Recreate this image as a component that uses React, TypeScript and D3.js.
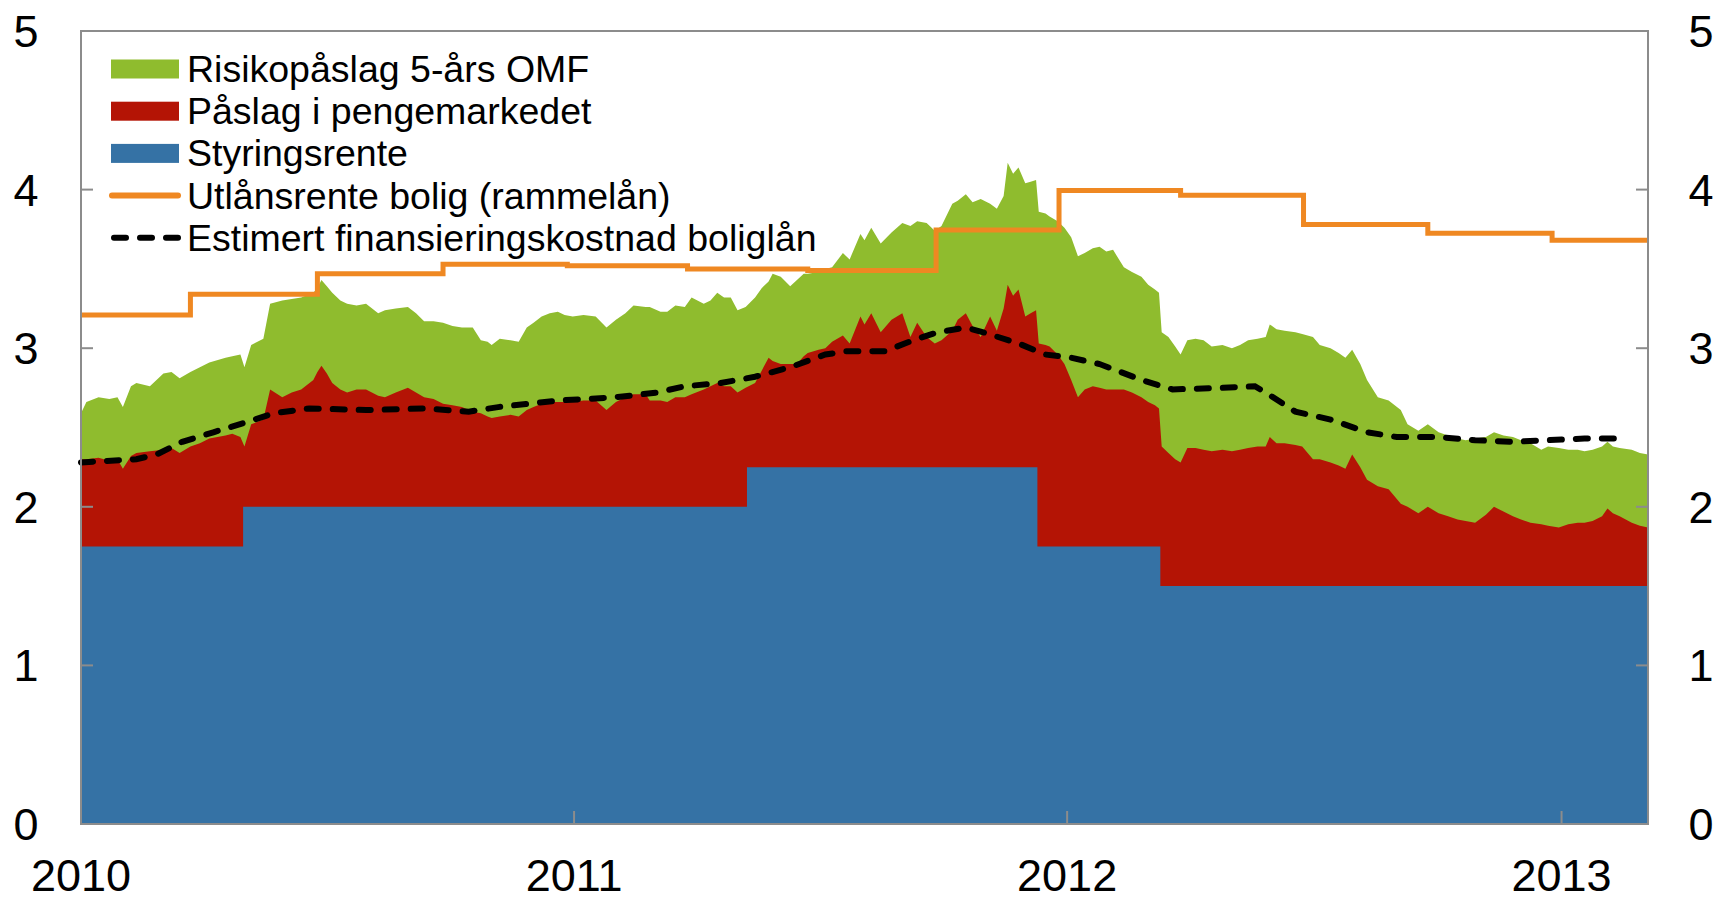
import React, { useRef, useEffect } from 'react';
import * as d3 from 'd3';

// days after 1 Jan 2010 for the daily spread samples
const sampleDays = [
  0, 4, 13, 21, 27, 31, 37, 41, 51, 61,
  67, 73, 81, 88, 95, 107, 112, 118, 121, 126,
  135, 140, 149, 156, 163, 172, 175, 178, 182, 186,
  192, 197, 204, 211, 220, 225, 233, 242, 248, 254,
  261, 268, 275, 282, 290, 296, 301, 304, 310, 318,
  324, 330, 335, 341, 347, 353, 358, 364, 372, 381,
  389, 396, 403, 409, 418, 421, 429, 434, 440, 447,
  452, 461, 466, 471, 476, 481, 486, 492, 499, 504,
  509, 512, 518, 525, 530, 535, 538, 546, 551, 556,
  564, 569, 577, 580, 585, 592, 600, 608, 614, 619,
  626, 632, 637, 645, 649, 655, 660, 666, 673, 678,
  683, 686, 690, 694, 699, 703, 707, 709, 714, 717,
  723, 728, 733, 738, 743, 749, 754, 759, 764, 772,
  778, 785, 790, 795, 798, 800, 805, 810, 814, 819,
  825, 831, 837, 845, 852, 858, 864, 871, 877, 880,
  885, 891, 899, 904, 912, 917, 925, 931, 936, 941,
  947, 952, 960, 968, 977, 982, 990, 997, 1005, 1012,
  1019, 1025, 1032, 1040, 1046, 1053, 1060, 1066, 1073, 1081,
  1086, 1094, 1101, 1108, 1113, 1119, 1126, 1130, 1134, 1139,
  1148, 1154, 1160,
];

// styringsrente + pengemarkedspåslag + OMF-påslag (top of green)
const omfLevel = [
  2.59, 2.66, 2.69, 2.68, 2.69, 2.63, 2.76, 2.78, 2.76, 2.84,
  2.85, 2.81, 2.85, 2.88, 2.91, 2.94, 2.95, 2.96, 2.88, 3.02,
  3.06, 3.28, 3.30, 3.31, 3.32, 3.35, 3.38, 3.43, 3.39, 3.35,
  3.30, 3.28, 3.27, 3.28, 3.22, 3.24, 3.25, 3.26, 3.22, 3.17,
  3.17, 3.16, 3.14, 3.13, 3.13, 3.05, 3.04, 3.02, 3.06, 3.05,
  3.04, 3.13, 3.16, 3.20, 3.22, 3.23, 3.21, 3.20, 3.21, 3.20,
  3.13, 3.18, 3.22, 3.27, 3.26, 3.26, 3.23, 3.23, 3.27, 3.26,
  3.32, 3.28, 3.30, 3.35, 3.32, 3.32, 3.24, 3.26, 3.32, 3.38,
  3.42, 3.47, 3.45, 3.39, 3.43, 3.47, 3.47, 3.48, 3.50, 3.51,
  3.60, 3.56, 3.72, 3.68, 3.76, 3.66, 3.73, 3.79, 3.77, 3.80,
  3.79, 3.74, 3.77, 3.91, 3.93, 3.97, 3.92, 3.94, 3.91, 3.88,
  3.96, 4.17, 4.10, 4.14, 4.04, 4.05, 4.06, 3.86, 3.85, 3.83,
  3.80, 3.76, 3.70, 3.58, 3.60, 3.63, 3.64, 3.61, 3.62, 3.51,
  3.48, 3.45, 3.40, 3.37, 3.35, 3.10, 3.07, 3.01, 2.96, 3.05,
  3.06, 3.05, 3.01, 3.02, 3.00, 3.02, 3.05, 3.06, 3.07, 3.15,
  3.12, 3.11, 3.10, 3.09, 3.07, 3.02, 3.00, 2.97, 2.94, 2.99,
  2.90, 2.80, 2.69, 2.67, 2.61, 2.52, 2.48, 2.52, 2.47, 2.45,
  2.43, 2.42, 2.43, 2.44, 2.47, 2.45, 2.44, 2.42, 2.40, 2.36,
  2.38, 2.37, 2.36, 2.36, 2.35, 2.36, 2.38, 2.41, 2.38, 2.37,
  2.36, 2.34, 2.33,
];

// styringsrente + pengemarkedspåslag (top of red)
const moneyMarketLevel = [
  2.30, 2.30, 2.31, 2.29, 2.30, 2.24, 2.32, 2.34, 2.35, 2.36,
  2.37, 2.34, 2.38, 2.40, 2.43, 2.45, 2.46, 2.44, 2.38, 2.52,
  2.55, 2.74, 2.69, 2.72, 2.74, 2.80, 2.85, 2.89, 2.84, 2.78,
  2.74, 2.72, 2.74, 2.74, 2.70, 2.69, 2.72, 2.75, 2.72, 2.69,
  2.68, 2.65, 2.64, 2.63, 2.60, 2.59, 2.57, 2.56, 2.57, 2.58,
  2.57, 2.61, 2.63, 2.65, 2.66, 2.66, 2.66, 2.66, 2.67, 2.67,
  2.61, 2.66, 2.69, 2.71, 2.71, 2.67, 2.67, 2.66, 2.69, 2.69,
  2.71, 2.74, 2.76, 2.78, 2.76, 2.76, 2.72, 2.75, 2.78, 2.86,
  2.94, 2.92, 2.90, 2.90, 2.90, 2.95, 2.97, 2.99, 3.00, 3.04,
  3.08, 3.03, 3.20, 3.15, 3.22, 3.10, 3.18, 3.22, 3.07, 3.16,
  3.07, 3.03, 3.05, 3.11, 3.18, 3.22, 3.14, 3.07, 3.20, 3.11,
  3.25, 3.40, 3.33, 3.37, 3.20, 3.22, 3.24, 3.03, 3.02, 3.01,
  2.96, 2.90, 2.80, 2.69, 2.74, 2.76, 2.75, 2.74, 2.74, 2.74,
  2.72, 2.69, 2.66, 2.64, 2.62, 2.38, 2.34, 2.30, 2.28, 2.37,
  2.37, 2.36, 2.35, 2.36, 2.35, 2.36, 2.37, 2.38, 2.38, 2.44,
  2.40, 2.40, 2.39, 2.38, 2.30, 2.30, 2.28, 2.26, 2.24, 2.33,
  2.25, 2.17, 2.13, 2.11, 2.02, 2.00, 1.96, 2.00, 1.96, 1.94,
  1.92, 1.91, 1.90, 1.95, 2.00, 1.97, 1.94, 1.92, 1.90, 1.89,
  1.88, 1.87, 1.89, 1.90, 1.90, 1.91, 1.94, 1.99, 1.96, 1.94,
  1.90, 1.88, 1.87,
];

const policyDays = [0, 120, 493, 708, 799, 1160];
const policyRate = [1.75, 2.0, 2.25, 1.75, 1.5, 1.5];

const lendingDays = [0, 81, 175, 268, 360, 449, 538, 633, 724, 814, 905, 997, 1089, 1160];
const lendingRate = [3.21, 3.34, 3.47, 3.53, 3.52, 3.5, 3.49, 3.745, 3.995, 3.965, 3.78, 3.725, 3.68, 3.68];

const fundingDays = [
  0, 41, 56, 75, 98, 121, 143, 169, 211, 254,
  287, 310, 353, 395, 426, 447, 473, 499, 525, 551,
  566, 595, 616, 634, 655, 668, 694, 714, 733, 754,
  785, 808, 845, 869, 877, 899, 925, 952, 974, 1005,
  1032, 1060, 1086, 1113, 1139,
];
const fundingCost = [
  2.28, 2.30, 2.33, 2.41, 2.47, 2.53, 2.59, 2.62, 2.61, 2.62,
  2.60, 2.63, 2.67, 2.69, 2.72, 2.76, 2.78, 2.82, 2.88, 2.96,
  2.98, 2.98, 3.05, 3.10, 3.13, 3.10, 3.03, 2.96, 2.94, 2.90,
  2.80, 2.74, 2.75, 2.76, 2.72, 2.60, 2.55, 2.47, 2.44, 2.44,
  2.42, 2.41, 2.42, 2.43, 2.43,
];

const yTicks = [0, 1, 2, 3, 4, 5];
const yearTicks = [2010, 2011, 2012, 2013];

const legendItems = [
  { label: 'Risikopåslag 5-års OMF', kind: 'rect', color: '#8fbc2e' },
  { label: 'Påslag i pengemarkedet', kind: 'rect', color: '#b41405' },
  { label: 'Styringsrente', kind: 'rect', color: '#3572a5' },
  { label: 'Utlånsrente bolig (rammelån)', kind: 'line', color: '#ef8822' },
  { label: 'Estimert finansieringskostnad boliglån', kind: 'dash', color: '#000000' },
];

const App = () => {
  const svgRef = useRef(null);

  useEffect(() => {
    const svg = d3.select(svgRef.current);
    svg.selectAll('*').remove();

    const left = 81, right = 1648, top = 31, bottom = 824;
    const font = '"Liberation Sans", Arial, sans-serif';
    const axisColor = '#8c8c8c';

    const start = new Date(2010, 0, 1);
    const day = (d: number) => d3.timeDay.offset(start, d);

    const x = d3.scaleTime().domain([start, day(1160)]).range([left, right]);
    const y = d3.scaleLinear().domain([0, 5]).range([bottom, top]);

    const g = svg.append('g');

    const levelArea = (values: number[]) =>
      d3.area<number>()
        .x(d => x(day(d)))
        .y0(y(0))
        .y1((_, i) => y(values[i]));

    g.append('path').datum(sampleDays).attr('d', levelArea(omfLevel)).attr('fill', '#8fbc2e');
    g.append('path').datum(sampleDays).attr('d', levelArea(moneyMarketLevel)).attr('fill', '#b41405');
    g.append('path').datum(policyDays)
      .attr('d', levelArea(policyRate).curve(d3.curveStepAfter))
      .attr('fill', '#3572a5');

    const lending = d3.line<number>()
      .x(d => x(day(d)))
      .y((_, i) => y(lendingRate[i]))
      .curve(d3.curveStepAfter);
    g.append('path').datum(lendingDays).attr('d', lending)
      .attr('fill', 'none').attr('stroke', '#ef8822').attr('stroke-width', 5);

    const funding = d3.line<number>()
      .x(d => x(day(d)))
      .y((_, i) => y(fundingCost[i]));
    g.append('path').datum(fundingDays).attr('d', funding)
      .attr('fill', 'none').attr('stroke', '#000').attr('stroke-width', 6)
      .attr('stroke-dasharray', '12 14').attr('stroke-linecap', 'round');

    // frame and inward ticks
    g.append('rect')
      .attr('x', left).attr('y', top)
      .attr('width', right - left).attr('height', bottom - top)
      .attr('fill', 'none').attr('stroke', axisColor).attr('stroke-width', 2);

    yTicks.forEach(t => {
      g.append('line').attr('x1', left).attr('x2', left + 12).attr('y1', y(t)).attr('y2', y(t))
        .attr('stroke', axisColor).attr('stroke-width', 2);
      g.append('line').attr('x1', right - 12).attr('x2', right).attr('y1', y(t)).attr('y2', y(t))
        .attr('stroke', axisColor).attr('stroke-width', 2);
      g.append('text').attr('x', 26).attr('y', y(t) + 16)
        .attr('text-anchor', 'middle').attr('font-family', font).attr('font-size', 45)
        .text(t);
      g.append('text').attr('x', 1701).attr('y', y(t) + 16)
        .attr('text-anchor', 'middle').attr('font-family', font).attr('font-size', 45)
        .text(t);
    });

    yearTicks.forEach(yr => {
      const xp = x(new Date(yr, 0, 1));
      g.append('line').attr('x1', xp).attr('x2', xp).attr('y1', bottom).attr('y2', bottom - 13)
        .attr('stroke', axisColor).attr('stroke-width', 2);
      g.append('text').attr('x', xp).attr('y', 891)
        .attr('text-anchor', 'middle').attr('font-family', font).attr('font-size', 45)
        .text(yr);
    });

    // legend
    legendItems.forEach((item, i) => {
      const cy = 69 + i * 42.2;
      if (item.kind === 'rect') {
        g.append('rect').attr('x', 111).attr('y', cy - 9.5).attr('width', 68).attr('height', 19)
          .attr('fill', item.color);
      } else if (item.kind === 'line') {
        g.append('line').attr('x1', 112).attr('x2', 178).attr('y1', cy).attr('y2', cy)
          .attr('stroke', item.color).attr('stroke-width', 6).attr('stroke-linecap', 'round');
      } else {
        g.append('line').attr('x1', 114).attr('x2', 178).attr('y1', cy).attr('y2', cy)
          .attr('stroke', item.color).attr('stroke-width', 6)
          .attr('stroke-dasharray', '12 14').attr('stroke-linecap', 'round');
      }
      g.append('text').attr('x', 187).attr('y', cy + 13)
        .attr('font-family', font).attr('font-size', 37.5)
        .text(item.label);
    });
  }, []);

  return (
    <svg ref={svgRef} width="1717" height="901"
      style={{ position: 'absolute', left: 0, top: 0, background: '#fff' }} />
  );
};

export default App;
